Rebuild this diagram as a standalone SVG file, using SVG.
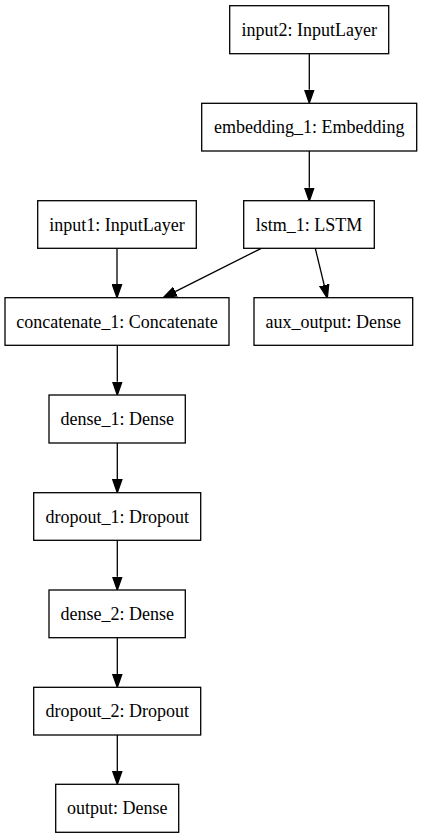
<svg xmlns="http://www.w3.org/2000/svg" width="422" height="839" viewBox="0 0 422 839">
<style>
.node rect{fill:#fff;stroke:#000;stroke-width:1.3}
.node text{font-family:"Liberation Serif","Times New Roman",serif;font-size:18px;text-anchor:middle;fill:#000}
.edge{stroke:#000;stroke-width:1.3;fill:none}
</style>
<defs>
<marker id="arr" markerUnits="userSpaceOnUse" markerWidth="15" markerHeight="11" viewBox="0 -5.5 15 11" refX="0" refY="0" orient="auto">
<path d="M0,-4.67 L13.3,0 L0,4.67 Z" fill="#000" stroke="#000" stroke-width="1.3"/>
</marker>
</defs>
<rect width="422" height="839" fill="#fff"/>
<g id="connectors">
<line class="edge" x1="309.3" y1="54" x2="309.3" y2="89.7" marker-end="url(#arr)"/>
<line class="edge" x1="309.3" y1="151" x2="309.3" y2="187.7" marker-end="url(#arr)"/>
<line class="edge" x1="261.3" y1="248.3" x2="175.2" y2="291.7" marker-end="url(#arr)"/>
<line class="edge" x1="315.3" y1="248.3" x2="324.2" y2="285.1" marker-end="url(#arr)"/>
<line class="edge" x1="117" y1="248.3" x2="117" y2="284.4" marker-end="url(#arr)"/>
<line class="edge" x1="117.3" y1="345.3" x2="117.3" y2="381.7" marker-end="url(#arr)"/>
<line class="edge" x1="117.3" y1="443" x2="117.3" y2="479.4" marker-end="url(#arr)"/>
<line class="edge" x1="117.3" y1="540.3" x2="117.3" y2="576.7" marker-end="url(#arr)"/>
<line class="edge" x1="117.3" y1="637.7" x2="117.3" y2="674" marker-end="url(#arr)"/>
<line class="edge" x1="117.3" y1="735" x2="117.3" y2="771" marker-end="url(#arr)"/>
</g>
<g id="input2" class="node"><rect x="229.7" y="5.7" width="159" height="48"/><text x="309.2" y="35.7">input2: InputLayer</text></g>
<g id="embedding_1" class="node"><rect x="201.7" y="103.3" width="215" height="47.7"/><text x="309.2" y="133.2">embedding_1: Embedding</text></g>
<g id="input1" class="node"><rect x="37.7" y="200.7" width="158.6" height="47.6"/><text x="117" y="230.5">input1: InputLayer</text></g>
<g id="lstm_1" class="node"><rect x="243.7" y="200.7" width="130.6" height="47.6"/><text x="309" y="230.5">lstm_1: LSTM</text></g>
<g id="concatenate_1" class="node"><rect x="5" y="297.7" width="224" height="47.6"/><text x="117" y="327.5">concatenate_1: Concatenate</text></g>
<g id="aux_output" class="node"><rect x="254" y="297.7" width="158.7" height="47.6"/><text x="333.3" y="327.5">aux_output: Dense</text></g>
<g id="dense_1" class="node"><rect x="49" y="395" width="136.3" height="48"/><text x="117.2" y="425">dense_1: Dense</text></g>
<g id="dropout_1" class="node"><rect x="33.7" y="492.7" width="167" height="47.6"/><text x="117.2" y="522.5">dropout_1: Dropout</text></g>
<g id="dense_2" class="node"><rect x="49" y="590" width="136.3" height="47.7"/><text x="117.2" y="619.8">dense_2: Dense</text></g>
<g id="dropout_2" class="node"><rect x="33.7" y="687.3" width="167" height="47.7"/><text x="117.2" y="717.1">dropout_2: Dropout</text></g>
<g id="output" class="node"><rect x="55.7" y="784.3" width="123" height="48"/><text x="117.2" y="814.3">output: Dense</text></g>
</svg>
